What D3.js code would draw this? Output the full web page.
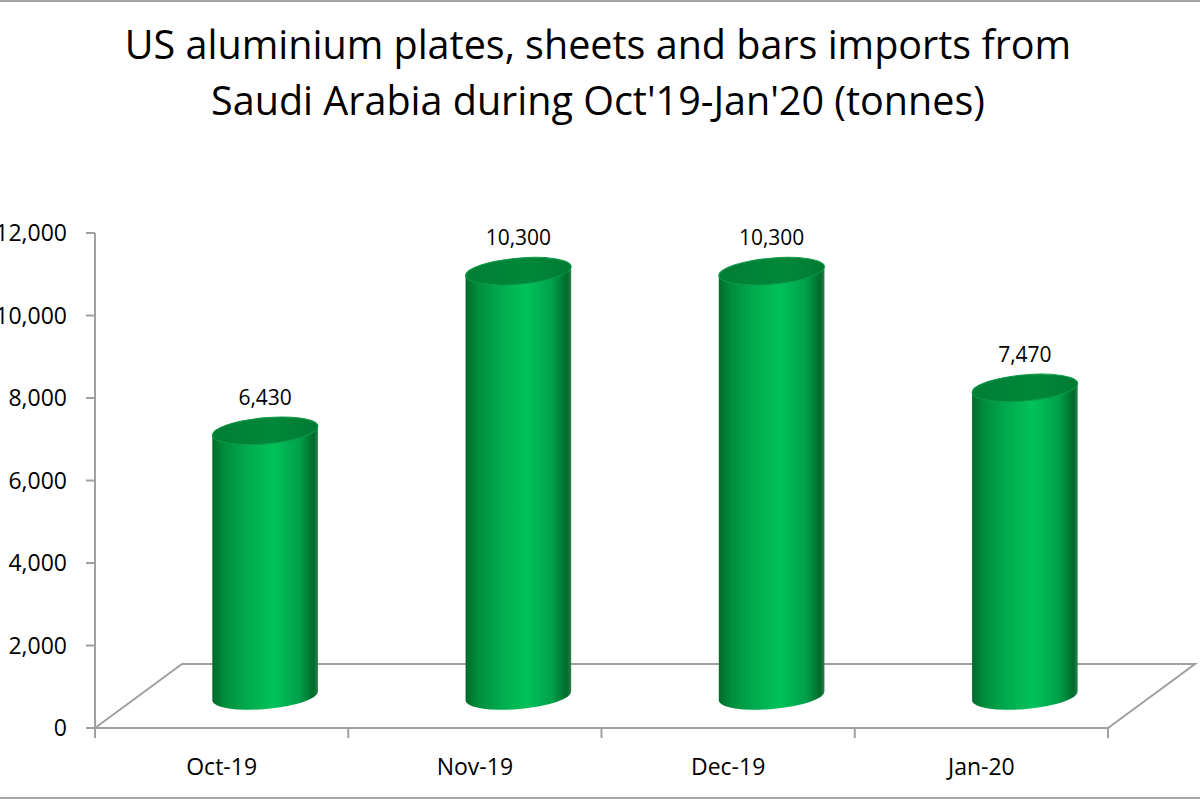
<!DOCTYPE html>
<html lang="en">
<head>
  <title>US aluminium imports from Saudi Arabia</title>
  <meta charset="UTF-8">
  <style>
    body { margin: 0; background: #fff; font-family: "Open Sans", sans-serif; }
    svg { display: block; }
  </style>
  <script src="https://cdn.jsdelivr.net/npm/d3@7"></script>
</head>
<body>
<script>
  var months = ["Oct-19", "Nov-19", "Dec-19", "Jan-20"];
  var tonnes = [6430, 10300, 10300, 7470];
  var yTicks = [0, 2000, 4000, 6000, 8000, 10000, 12000];
  var titleLines = ["US aluminium plates, sheets and bars imports from",
                    "Saudi Arabia during Oct'19-Jan'20 (tonnes)"];

  var W = 1200, H = 800;
  var plotLeft = 95, plotRight = 1108, plotTop = 233, plotBottom = 728;
  var depthX = 87, depthY = -64;     // offset of the back edge of the floor
  var midX = depthX / 2, midY = depthY / 2;
  var tilt = -5;                      // ellipse tilt, degrees

  var svg = d3.select("body").append("svg").attr("width", W).attr("height", H);
  var defs = svg.append("defs");

  var bodyGrad = defs.append("linearGradient").attr("id", "cylBody")
    .attr("x1", "0").attr("x2", "1").attr("y1", "0").attr("y2", "0");
  [[0, "#006a2a"], [0.12, "#008f3d"], [0.35, "#00ad4f"], [0.58, "#00c25a"],
   [0.82, "#00a14a"], [0.96, "#006a2c"], [1, "#2e7f4a"]].forEach(function(s) {
    bodyGrad.append("stop").attr("offset", s[0]).attr("stop-color", s[1]);
  });
  var capGrad = defs.append("linearGradient").attr("id", "cylTop")
    .attr("x1", "0").attr("x2", "1").attr("y1", "0").attr("y2", "0");
  [[0, "#007e35"], [0.6, "#00883a"], [1, "#007a33"]].forEach(function(s) {
    capGrad.append("stop").attr("offset", s[0]).attr("stop-color", s[1]);
  });

  // frame lines
  svg.append("line").attr("x1", 0).attr("x2", W).attr("y1", 1).attr("y2", 1)
    .attr("stroke", "#a6a6a6").attr("stroke-width", 2);
  svg.append("line").attr("x1", 0).attr("x2", W).attr("y1", 798).attr("y2", 798)
    .attr("stroke", "#a6a6a6").attr("stroke-width", 2);

  // title
  svg.append("g").selectAll("text").data(titleLines).enter().append("text")
    .attr("x", 598).attr("y", function(d, i) { return 59 + i * 56; })
    .attr("text-anchor", "middle")
    .style("font-size", "39.5px").style("fill", "#000")
    .text(function(d) { return d; });

  var x = d3.scaleBand().domain(months).range([plotLeft, plotRight]);
  var y = d3.scaleLinear().domain([0, 12000]).range([plotBottom, plotTop]);

  var grey = "#a0a0a0";
  var axes = svg.append("g").attr("stroke", grey).attr("stroke-width", 2).attr("fill", "none");

  // floor
  axes.append("path").attr("d",
    "M" + plotLeft + "," + plotBottom +
    "L" + (plotLeft + depthX) + "," + (plotBottom + depthY) +
    "L" + (plotRight + depthX) + "," + (plotBottom + depthY) +
    "L" + plotRight + "," + plotBottom + "Z");

  // value axis
  axes.append("line").attr("x1", plotLeft).attr("x2", plotLeft)
    .attr("y1", y(12000)).attr("y2", plotBottom);
  axes.selectAll(".yt").data(yTicks).enter().append("line")
    .attr("x1", plotLeft - 9).attr("x2", plotLeft)
    .attr("y1", function(d) { return y(d); }).attr("y2", function(d) { return y(d); });

  // category ticks at band boundaries
  var bounds = months.map(function(m) { return x(m); }).concat([plotRight]);
  axes.selectAll(".xt").data(bounds).enter().append("line")
    .attr("x1", function(d) { return d; }).attr("x2", function(d) { return d; })
    .attr("y1", plotBottom).attr("y2", plotBottom + 10);

  svg.append("g").selectAll("text").data(yTicks).enter().append("text")
    .attr("x", 67).attr("y", function(d) { return y(d); }).attr("dy", "0.36em")
    .attr("text-anchor", "end").style("font-size", "23px").style("fill", "#000")
    .text(d3.format(","));

  svg.append("g").selectAll("text").data(months).enter().append("text")
    .attr("x", function(d) { return x(d) + x.bandwidth() / 2; })
    .attr("y", 775).attr("text-anchor", "middle")
    .style("font-size", "23px").style("fill", "#000")
    .text(function(d) { return d; });

  // cylinders sit half way into the floor depth
  var rx = 53, ry = 13;
  var t = tilt * Math.PI / 180;
  var ex = rx * Math.cos(t), ey = rx * Math.sin(t);

  var data = months.map(function(m, i) { return { month: m, value: tonnes[i] }; });
  var cyl = svg.append("g").selectAll("g").data(data).enter().append("g");

  cyl.append("path").attr("fill", "url(#cylBody)")
    .attr("d", function(d) {
      var cx = x(d.month) + x.bandwidth() / 2 + midX;
      var y0 = y(0) + midY, y1 = y(d.value) + midY;
      return "M" + (cx - ex) + "," + (y1 - ey) +
        "L" + (cx - ex) + "," + (y0 - ey) +
        "A" + rx + "," + ry + " " + tilt + " 0 0 " + (cx + ex) + "," + (y0 + ey) +
        "L" + (cx + ex) + "," + (y1 + ey) + "Z";
    });

  cyl.append("ellipse").attr("fill", "url(#cylTop)")
    .attr("stroke", "#0a9a48").attr("stroke-width", 1)
    .attr("rx", rx).attr("ry", ry)
    .attr("transform", function(d) {
      var cx = x(d.month) + x.bandwidth() / 2 + midX;
      return "translate(" + cx + "," + (y(d.value) + midY) + ") rotate(" + tilt + ")";
    });

  cyl.append("text")
    .attr("x", function(d) { return x(d.month) + x.bandwidth() / 2 + midX; })
    .attr("y", function(d) { return y(d.value) + midY - 26; })
    .attr("text-anchor", "middle").style("font-size", "21px").style("fill", "#000")
    .text(function(d) { return d3.format(",")(d.value); });
</script>
</body>
</html>
